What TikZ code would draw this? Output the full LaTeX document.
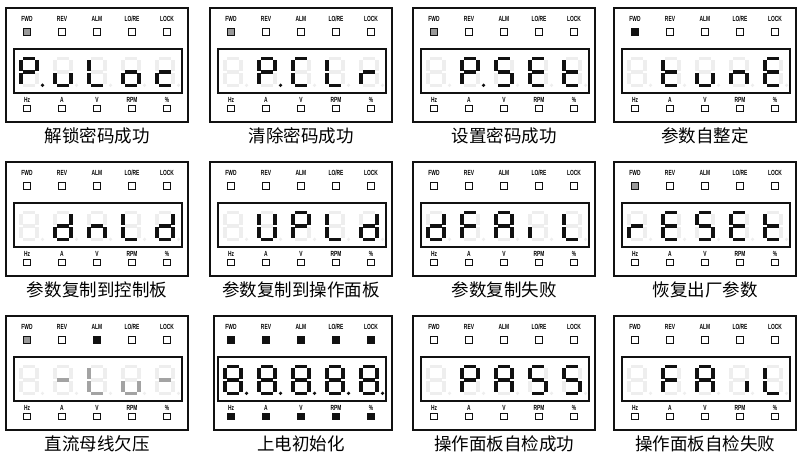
\documentclass[tikz,border=0pt]{standalone}
\usepackage{fontspec}
\newfontfamily\cjk{Noto Sans CJK SC}
\newfontfamily\lblfont[FakeStretch=0.66]{Liberation Sans}
\usetikzlibrary{positioning}
\definecolor{ink}{HTML}{111111}
\definecolor{segdim}{HTML}{EEEEEE}
\definecolor{segmid}{HTML}{A3A3A3}
\definecolor{ledmid}{HTML}{999999}
\tikzset{
  %% panel parts
  frame/.style   = {draw=ink, line width=1.6pt},
  window/.style  = {draw=ink, line width=1.1pt},
  lbl/.style     = {font=\lblfont\bfseries\fontsize{7.4}{8}\selectfont, inner sep=0pt},
  led/.style     = {draw=ink, line width=0.9pt, minimum size=6.6pt, inner sep=0pt},
  caption/.style = {font=\cjk\fontsize{17.5}{20}\selectfont, inner sep=0pt},
  %% segments
  segon/.style   = {fill=ink},
  segoff/.style  = {fill=segdim},
  seggray/.style = {fill=segmid},
}
%% frame, indicator leds and caption of one panel
\newcommand{\panelframe}[5][0]{%
  \draw[frame] (#1,0) rectangle (182,114);
  \draw[window] (8,41) rectangle (176,85);
  \foreach \t [count=\i] in {FWD,REV,ALM,LO/RE,LOCK}
    \node[lbl] (#2-t\i) at ({-14+35*\i},11) {\t};
  \foreach \f [count=\i] in {#3}
    \node[led, fill=\f] (#2-tl\i) at ({-14+35*\i},24) {};
  \foreach \t [count=\i] in {Hz,A,V,RPM,\%}
    \node[lbl] (#2-b\i) at ({-14+35*\i},91.5) {\t};
  \foreach \f [count=\i] in {#4}
    \node[led, fill=\f] (#2-bl\i) at ({-14+35*\i},100.5) {};
  \node[caption] (#2-cap) at (91,128) {#5};
}
%% one seven-segment digit: [on style] x, y, lit segments, point
\makeatletter
\newcommand{\digit}[5][segon]{%
  \begin{scope}[shift={(#2,#3)}]
    \foreach \s/\xa/\ya/\xb/\yb in {a/4/0/15.5/3.4,b/16/2.6/19.6/14,c/16/16/19.6/27.4,
        d/4/26.6/15.5/30,e/0/16/3.6/27.4,f/0/2.6/3.6/14,g/4/13.3/15.5/16.7}{
      \edef\segtest{\noexpand\in@{\s}{#4}}\segtest
      \ifin@ \fill[#1] (\xa,\ya) rectangle (\xb,\yb);
      \else \fill[segoff] (\xa,\ya) rectangle (\xb,\yb);\fi
    }
    \ifnum#5=1 \fill[#1] (23.5,28.3) circle (1.8pt);
    \else \fill[segoff] (23.5,28.3) circle (1.8pt);\fi
  \end{scope}}
\makeatother

\begin{document}
\begin{tikzpicture}[x=1pt, y=-1pt]
\useasboundingbox (0,0) rectangle (797,457);

%% ============ row 1 ============
\begin{scope}[shift={(6,8)}]
  \panelframe{pa}{ledmid,white,white,white,white}{white,white,white,white,white}{解锁密码成功}
  \foreach \pat/\pt [count=\i] in {abefg/1,cde/0,def/0,cdeg/0,deg/0}
    {\digit{-21+34*\i}{49}{\pat}{\pt}}
\end{scope}
\begin{scope}[shift={(210,8)}]
  \panelframe{pb}{ledmid,white,white,white,white}{white,white,white,white,white}{清除密码成功}
  \foreach \pat/\pt [count=\i] in {-/0,abefg/1,adef/0,def/0,eg/0}
    {\digit{-21+34*\i}{49}{\pat}{\pt}}
\end{scope}
\begin{scope}[shift={(413,8)}]
  \panelframe{pc}{ledmid,white,white,white,white}{white,white,white,white,white}{设置密码成功}
  \foreach \pat/\pt [count=\i] in {-/0,abefg/1,acdfg/0,adefg/0,defg/0}
    {\digit{-21+34*\i}{49}{\pat}{\pt}}
\end{scope}
\begin{scope}[shift={(614,8)}]
  \panelframe{pd}{ink,white,white,white,white}{white,white,white,white,white}{参数自整定}
  \foreach \pat/\pt [count=\i] in {-/0,defg/0,cde/0,ceg/0,adefg/0}
    {\digit{-21+34*\i}{49}{\pat}{\pt}}
\end{scope}

%% ============ row 2 ============
\begin{scope}[shift={(6,162)}]
  \panelframe{pe}{white,white,white,white,white}{white,white,white,white,white}{参数复制到控制板}
  \foreach \pat/\pt [count=\i] in {-/0,bcdeg/0,ceg/0,def/0,bcdeg/0}
    {\digit{-21+34*\i}{49}{\pat}{\pt}}
\end{scope}
\begin{scope}[shift={(210,162)}]
  \panelframe{pf}{white,white,white,white,white}{white,white,white,white,white}{参数复制到操作面板}
  \foreach \pat/\pt [count=\i] in {-/0,bcdef/0,abefg/0,def/0,bcdeg/0}
    {\digit{-21+34*\i}{49}{\pat}{\pt}}
\end{scope}
\begin{scope}[shift={(413,162)}]
  \panelframe{pg}{white,white,white,white,white}{white,white,white,white,white}{参数复制失败}
  \foreach \pat/\pt [count=\i] in {bcdeg/0,aefg/0,abcefg/0,e/0,def/0}
    {\digit{-21+34*\i}{49}{\pat}{\pt}}
\end{scope}
\begin{scope}[shift={(614,162)}]
  \panelframe{ph}{ledmid,white,white,white,white}{white,white,white,white,white}{恢复出厂参数}
  \foreach \pat/\pt [count=\i] in {eg/0,adefg/0,acdfg/0,adefg/0,defg/0}
    {\digit{-21+34*\i}{49}{\pat}{\pt}}
\end{scope}

%% ============ row 3 ============
\begin{scope}[shift={(6,316)}]
  \panelframe{pi}{ledmid,white,ink,white,white}{white,white,white,white,white}{直流母线欠压}
  \foreach \pat/\pt [count=\i] in {-/0,g/0,def/0,cde/0,g/0}
    {\digit[seggray]{-21+34*\i}{49}{\pat}{\pt}}
\end{scope}
\begin{scope}[shift={(210,316)}]
  \panelframe[4]{pj}{ink,ink,ink,ink,ink}{ink,ink,ink,ink,ink}{上电初始化}
  \foreach \i in {1,...,5}
    {\digit{-21+34*\i}{49}{abcdefg}{1}}
\end{scope}
\begin{scope}[shift={(413,316)}]
  \panelframe{pk}{white,white,white,white,white}{white,white,white,white,white}{操作面板自检成功}
  \foreach \pat/\pt [count=\i] in {-/0,abefg/0,abcefg/0,acdfg/0,acdfg/0}
    {\digit{-21+34*\i}{49}{\pat}{\pt}}
\end{scope}
\begin{scope}[shift={(614,316)}]
  \panelframe{pl}{white,white,white,white,white}{white,white,white,white,white}{操作面板自检失败}
  \foreach \pat/\pt [count=\i] in {-/0,aefg/0,abcefg/0,c/0,def/0}
    {\digit{-21+34*\i}{49}{\pat}{\pt}}
\end{scope}

\end{tikzpicture}
\end{document}
